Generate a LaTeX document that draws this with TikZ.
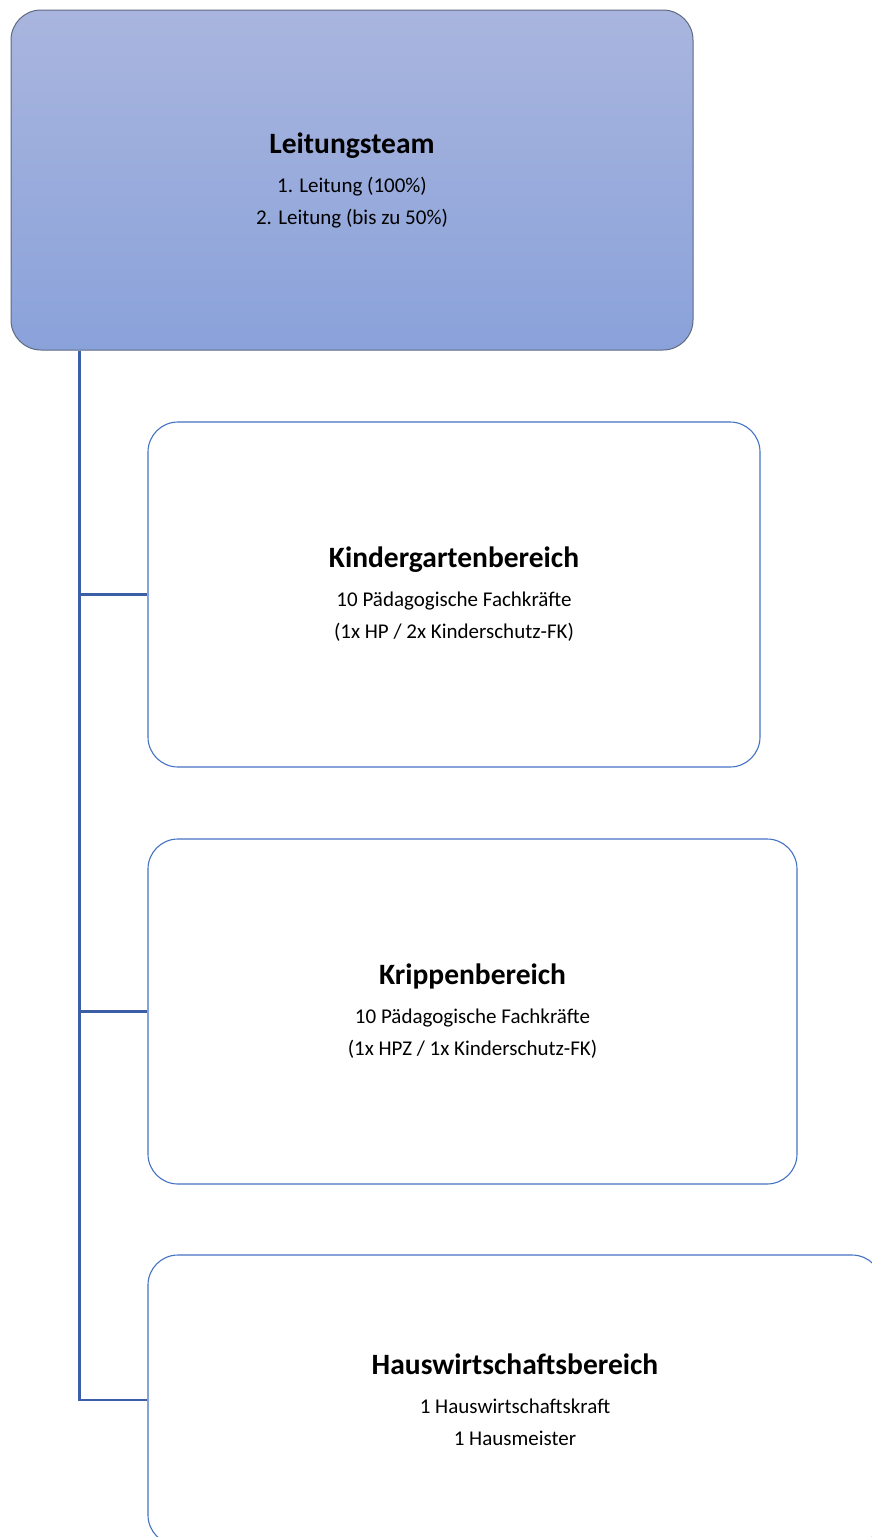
\documentclass[tikz,border=0pt]{standalone}
\usepackage{fontspec}
\setmainfont{Carlito}
\usetikzlibrary{positioning}

\definecolor{leadtop}{HTML}{A9B5DE}
\definecolor{leadbot}{HTML}{8AA2DA}
\definecolor{leadline}{HTML}{5E6A82}
\definecolor{unitline}{HTML}{4472C4}
\definecolor{branchcol}{HTML}{3B5EA6}

\newcommand{\unittitle}[1]{{\fontsize{29.5}{32}\selectfont\bfseries #1}\\[7pt]}

\begin{document}
\begin{tikzpicture}[x=1pt, y=-1pt,
  font=\fontsize{21}{32}\selectfont,
  box/.style={rounded corners=30pt, align=center, inner sep=0pt},
  lead/.style={box, draw=leadline, line width=1pt, top color=leadtop, bottom color=leadbot},
  unit/.style={box, draw=unitline, line width=1.1pt, fill=white},
  branch/.style={draw=branchcol, line width=2.6pt},
]
\clip (0,0) rectangle (872,1537);

\node[lead, minimum width=682pt, minimum height=340pt] (team) at (352,180)
  {\unittitle{Leitungsteam}1. Leitung (100\%)\\2. Leitung (bis zu 50\%)};

\node[unit, minimum width=612pt, minimum height=345pt] (kiga) at (454,594.5)
  {\unittitle{Kindergartenbereich}10 Pädagogische Fachkräfte\\(1x HP / 2x Kinderschutz-FK)};
\node[unit, minimum width=649pt, minimum height=345pt] (krippe) at (472.5,1011.5)
  {\unittitle{Krippenbereich}10 Pädagogische Fachkräfte\\(1x HPZ / 1x Kinderschutz-FK)};
% runs off the page to the right and bottom
\node[unit, minimum width=734pt, minimum height=290pt] (hw) at (515,1400)
  {\unittitle{Hauswirtschaftsbereich}1 Hauswirtschaftskraft\\1 Hausmeister};

\draw[branch] ([xshift=69pt]team.south west) |- (kiga.west);
\draw[branch] ([xshift=69pt]team.south west) |- (krippe.west);
\draw[branch] ([xshift=69pt]team.south west) |- (hw.west);
\end{tikzpicture}
\end{document}
